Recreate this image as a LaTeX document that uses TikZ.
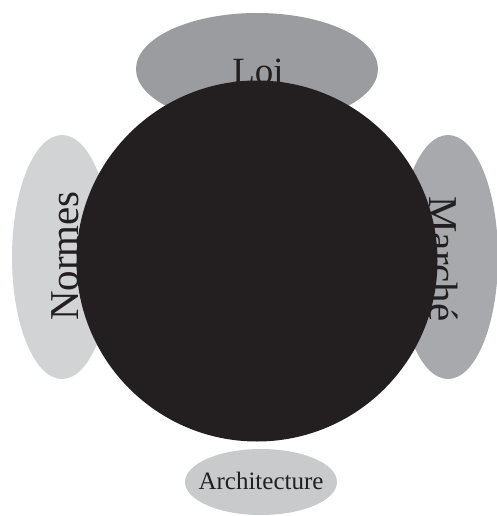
\documentclass[tikz,border=0pt]{standalone}
\usepackage{fontspec}
\setmainfont{Liberation Serif}
\usetikzlibrary{shapes.geometric}
\definecolor{loigray}{HTML}{9B9C9F}
\definecolor{normgray}{HTML}{D2D3D5}
\definecolor{margray}{HTML}{A8A9AC}
\definecolor{archgray}{HTML}{C9CACC}
\definecolor{core}{HTML}{231F20}
\definecolor{txt}{HTML}{231F20}
\tikzset{
  blob/.style={ellipse, inner sep=0pt, draw=none},
  lab/.style={inner sep=0pt, text=txt},
}
\begin{document}
\begin{tikzpicture}[x=1pt,y=-1pt]
\useasboundingbox (0,0) rectangle (497,516);
\node[blob, fill=loigray, minimum width=242pt, minimum height=112pt] (loi) at (257,69) {};
\node[blob, fill=normgray, minimum width=100pt, minimum height=244pt] (normes) at (62,257) {};
\node[blob, fill=margray, minimum width=100pt, minimum height=244pt] (marche) at (448,257) {};
\node[lab, font=\fontsize{37}{37}\selectfont] (loit) at (258,71) {Loi};
\node[lab, font=\fontsize{41}{41}\selectfont, rotate=90] (normest) at (65,256) {Normes};
\node[lab, font=\fontsize{41}{41}\selectfont, rotate=-90] (marchet) at (444,259) {Marché};
\node[circle, fill=core, minimum size=361pt, inner sep=0pt] (c) at (257,261) {};
\node[blob, fill=archgray, minimum width=152pt, minimum height=66pt] (arch) at (261,482) {};
\node[lab, font=\fontsize{25}{25}\selectfont] (archt) at (261,481) {Architecture};
\end{tikzpicture}
\end{document}
